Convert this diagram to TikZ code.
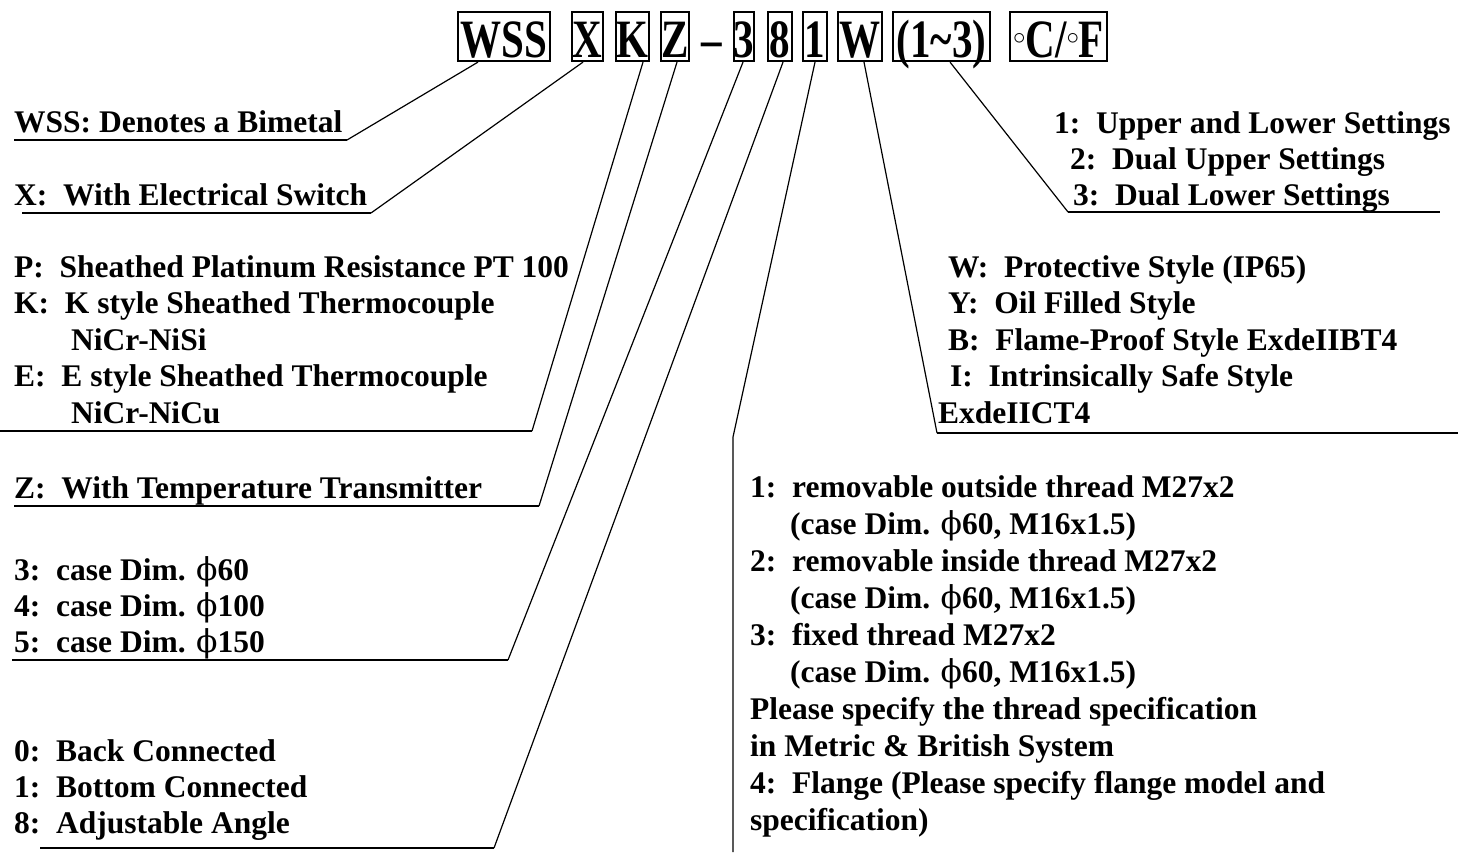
\documentclass[tikz,border=0pt]{standalone}
\usepackage{fontspec}
\setmainfont{Liberation Serif}
\newfontfamily\hdrfamily{Liberation Serif Bold}[FakeStretch=0.76]
\newfontfamily\phifamily{DejaVu Serif}
\newcommand\myphi{{\phifamily\mdseries ϕ}}
\newcommand\mydeg{\raisebox{13pt}{\fontsize{30}{30}\selectfont$\circ$}}
\tikzset{
  hbox/.style={draw, line width=2.2pt, inner xsep=0pt, inner ysep=0pt, text height=45pt, text depth=4pt, anchor=base,
    font=\hdrfamily\fontsize{54}{60}\selectfont},
  hdash/.style={inner sep=0pt, anchor=base, font=\hdrfamily\fontsize{54}{60}\selectfont},
  txt/.style={anchor=base west, inner sep=0pt, font=\bfseries\fontsize{31.5}{36}\selectfont},
  conn/.style={line width=1.2pt, line join=miter},
  uline/.style={line width=2pt}
}
\begin{document}
\begin{tikzpicture}[x=1pt,y=-1pt]
\useasboundingbox[fill=white] (0,0) rectangle (1458,852);
% header
\node[hbox, minimum width=92pt] (wss) at (504,57) {WSS};
\node[hbox, minimum width=31pt] (x) at (587.5,57) {X};
\node[hbox, minimum width=33pt] (k) at (632.5,57) {K};
\node[hbox, minimum width=26pt] (z) at (675,57) {Z};
\node[hdash] (dash) at (712,57) {–};
\node[hbox, minimum width=19pt] (n3) at (744,57) {3};
\node[hbox, minimum width=24pt] (n8) at (780,57) {8};
\node[hbox, minimum width=24pt] (n1) at (815,57) {1};
\node[hbox, minimum width=44pt] (w) at (860,57) {W};
\node[hbox, minimum width=97pt] (rng) at (941.5,57) {(1\char"7E 3)};
\node[hbox, minimum width=97pt] (deg) at (1058.5,57) {\mydeg C/\mydeg F};
% left texts
\node[txt] (wssT) at (14,132) {WSS: Denotes a Bimetal};
\node[txt] (xT) at (14,205) {X:~~With Electrical Switch};
\node[txt] (p1) at (14,277) {P:~~Sheathed Platinum Resistance PT 100};
\node[txt] (p2) at (14,313.5) {K:~~K style Sheathed Thermocouple};
\node[txt] (p3) at (71,350) {NiCr-NiSi};
\node[txt] (p4) at (14,386.5) {E:~~E style Sheathed Thermocouple};
\node[txt] (p5) at (71,423) {NiCr-NiCu};
\node[txt] (zT) at (14,498) {Z:~~With Temperature Transmitter};
\node[txt] (c1) at (14,580) {3:~~case Dim. \myphi60};
\node[txt] (c2) at (14,616) {4:~~case Dim. \myphi100};
\node[txt] (c3) at (14,652) {5:~~case Dim. \myphi150};
\node[txt] (a1) at (14,761) {0:~~Back Connected};
\node[txt] (a2) at (14,797) {1:~~Bottom Connected};
\node[txt] (a3) at (14,833) {8:~~Adjustable Angle};
% right texts
\node[txt] (r1) at (1054,133) {1:~~Upper and Lower Settings};
\node[txt] (r2) at (1070,169) {2:~~Dual Upper Settings};
\node[txt] (r3) at (1073,205) {3:~~Dual Lower Settings};
\node[txt] (w1) at (948,277) {W:~~Protective Style (IP65)};
\node[txt] (w2) at (948,313.5) {Y:~~Oil Filled Style};
\node[txt] (w3) at (948,350) {B:~~Flame-Proof Style ExdeIIBT4};
\node[txt] (w4) at (950,386.5) {I:~~Intrinsically Safe Style};
\node[txt] (w5) at (938,423) {ExdeIICT4};
\node[txt] (t1) at (750,497) {1:~~removable outside thread M27x2};
\node[txt] (t2) at (790,534) {(case Dim. \myphi60, M16x1.5)};
\node[txt] (t3) at (750,571) {2:~~removable inside thread M27x2};
\node[txt] (t4) at (790,608) {(case Dim. \myphi60, M16x1.5)};
\node[txt] (t5) at (750,645) {3:~~fixed thread M27x2};
\node[txt] (t6) at (790,682) {(case Dim. \myphi60, M16x1.5)};
\node[txt] (t7) at (750,719) {Please specify the thread specification};
\node[txt] (t8) at (750,756) {in Metric \& British System};
\node[txt] (t9) at (750,793) {4:~~Flange (Please specify flange model and};
\node[txt] (t10) at (750,830) {specification)};
% joints
\coordinate (wssJ) at (347,140); \coordinate (wssE) at (14,140);
\coordinate (xJ) at (371,213);   \coordinate (xE) at (22,213);
\coordinate (kJ) at (532,431);   \coordinate (kE) at (0,431);
\coordinate (zJ) at (539,506);   \coordinate (zE) at (14,506);
\coordinate (n3J) at (508,660);  \coordinate (n3E) at (12,660);
\coordinate (n8J) at (494,848);  \coordinate (n8E) at (40,848);
\coordinate (n1J) at (733,437);  \coordinate (n1E) at (733,852);
\coordinate (wJ) at (937,433);   \coordinate (wE) at (1458,433);
\coordinate (rngJ) at (1068,212); \coordinate (rngE) at (1440,212);
% connectors
\draw[conn] ([xshift=-26pt]wss.south) -- (wssJ);
\draw[conn] ([xshift=-4.5pt]x.south) -- (xJ);
\draw[conn] ([xshift=10.5pt]k.south) -- (kJ);
\draw[conn] ([xshift=2pt]z.south) -- (zJ);
\draw[conn] ([xshift=-1pt]n3.south) -- (n3J);
\draw[conn] ([xshift=3pt]n8.south) -- (n8J);
\draw[conn] (n1.south) -- (n1J) -- (n1E);
\draw[conn] ([xshift=4pt]w.south) -- (wJ);
\draw[conn] ([xshift=8.5pt]rng.south) -- (rngJ);
% underlines
\draw[uline] (wssJ) -- (wssE);
\draw[uline] (xJ) -- (xE);
\draw[uline] (kJ) -- (kE);
\draw[uline] (zJ) -- (zE);
\draw[uline] (n3J) -- (n3E);
\draw[uline] (n8J) -- (n8E);
\draw[uline] (wJ) -- (wE);
\draw[uline] (rngJ) -- (rngE);
\end{tikzpicture}
\end{document}
